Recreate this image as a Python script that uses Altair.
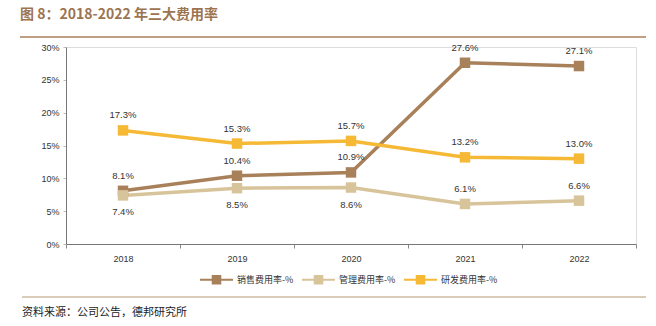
import altair as alt
import pandas as pd

years = ["2018", "2019", "2020", "2021", "2022"]
series_names = ["销售费用率-%", "管理费用率-%", "研发费用率-%"]
sales = [8.1, 10.4, 10.9, 27.6, 27.1]
admin = [7.4, 8.5, 8.6, 6.1, 6.6]
rnd = [17.3, 15.3, 15.7, 13.2, 13.0]
colors = ["#a8805a", "#d8c49a", "#f5b935"]
# label side: 1 = above, -1 = below
sides = {
    "销售费用率-%": [1, 1, 1, 1, 1],
    "管理费用率-%": [-1, -1, -1, 1, 1],
    "研发费用率-%": [1, 1, 1, 1, 1],
}

rows = []
for name, vals in zip(series_names, [sales, admin, rnd]):
    for i, (y, v) in enumerate(zip(years, vals)):
        rows.append({"year": y, "series": name, "value": v / 100.0,
                     "label": f"{v:.1f}%", "side": sides[name][i]})
df = pd.DataFrame(rows)

xenc = alt.X("year:N", sort=years, title=None,
             axis=alt.Axis(labelAngle=0, tickBand="extent", labelFontSize=9,
                           labelColor="#333", domainColor="#777", tickColor="#888",
                           tickSize=4, labelPadding=6, labelFont="Liberation Sans"))
yenc = alt.Y("value:Q", title=None,
             scale=alt.Scale(domain=[0, 0.3]),
             axis=alt.Axis(values=[0, 0.05, 0.1, 0.15, 0.2, 0.25, 0.3], format=".0%",
                           grid=False, labelFontSize=9, labelColor="#333",
                           labelOverlap=False,
                           domainColor="#777", tickColor="#bbb", tickSize=3,
                           labelPadding=4, labelFont="Liberation Sans"))

base = alt.Chart(df)

lines = base.mark_line(strokeWidth=3.5).encode(
    x=xenc, y=yenc,
    color=alt.Color("series:N", scale=alt.Scale(domain=series_names, range=colors), legend=None),
    detail="series:N")

legend_path = "M-1,-0.055H1V0.055H-1Z M-0.29,-0.29H0.29V0.29H-0.29Z"
points = base.mark_point(shape="square", filled=True, size=110, opacity=1).encode(
    x=xenc, y=yenc,
    color=alt.Color("series:N", scale=alt.Scale(domain=series_names, range=colors),
                    title=None,
                    legend=alt.Legend(orient="none", legendX=134, legendY=216,
                                      direction="horizontal", symbolType=legend_path,
                                      symbolSize=1089, symbolStrokeWidth=0,
                                      symbolOpacity=1,
                                      labelFontSize=9, labelFont="Noto Sans CJK SC",
                                      labelColor="#333", columnPadding=8,
                                      labelOffset=4)))

above = base.transform_filter("datum.side > 0").mark_text(
    dy=-15, fontSize=9.5, color="#333", font="Liberation Sans").encode(
    x=xenc, y=yenc, text="label:N")
below = base.transform_filter("datum.side < 0").mark_text(
    dy=17, fontSize=9.5, color="#333", font="Liberation Sans").encode(
    x=xenc, y=yenc, text="label:N")

one = alt.Data(values=[{"a": 1}])
title = alt.Chart(one).mark_text(
    text="图 8：2018-2022 年三大费用率", align="left", baseline="middle",
    fontSize=14, fontWeight="bold", color="#9c7450", font="Noto Sans CJK SC").encode(
    x=alt.value(-46), y=alt.value(-32))
top_rule = alt.Chart(one).mark_rule(color="#a97f5b", strokeWidth=1.5).encode(
    x=alt.value(-46), x2=alt.value(580), y=alt.value(-10))
bottom_rule = alt.Chart(one).mark_rule(color="#b89878", strokeWidth=1.2).encode(
    x=alt.value(-44), x2=alt.value(580), y=alt.value(250))
source = alt.Chart(one).mark_text(
    text="资料来源：公司公告，德邦研究所", align="left", baseline="middle",
    fontSize=11, color="#222", font="Noto Sans CJK SC").encode(
    x=alt.value(-44), y=alt.value(266))

chart = alt.layer(lines, points, above, below, title, top_rule, bottom_rule, source).resolve_legend(
    color="independent"
).properties(
    width=570, height=197,
    autosize=alt.AutoSizeParams(type="none"),
    padding={"left": 66, "top": 47, "right": 20, "bottom": 82},
).configure_view(stroke=None).configure(background="white")

chart.save("out.html", embed_options={"renderer": "svg", "actions": False})
